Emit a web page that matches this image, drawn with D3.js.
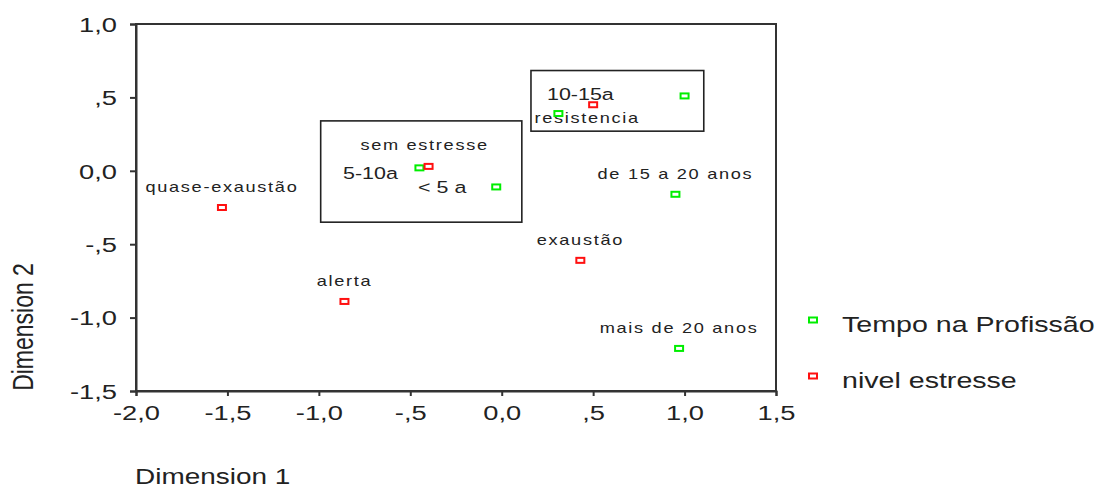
<!DOCTYPE html>
<html>
<head>
<meta charset="utf-8">
<script src="https://cdn.jsdelivr.net/npm/d3@7"></script>
<style>
  body { margin: 0; background: #fff; }
  text { font-family: "Liberation Sans", Arial, sans-serif; fill: #222; }
</style>
</head>
<body>
<div id="chart"></div>
<script>
// data
var tempoLabels = ["< 5 a", "5-10a", "10-15a", "de 15 a 20 anos", "mais de 20 anos", ""];
var tempoDim1 = [-0.03, -0.45, 0.31, 0.95, 0.97, 1.00];
var tempoDim2 = [-0.11, 0.02, 0.39, -0.16, -1.21, 0.51];

var estresseLabels = ["sem estresse", "alerta", "resistencia", "quase-exaustão", "exaustão"];
var estresseDim1 = [-0.40, -0.86, 0.50, -1.53, 0.43];
var estresseDim2 = [0.03, -0.89, 0.45, -0.25, -0.61];

var xTicks = [-2, -1.5, -1, -0.5, 0, 0.5, 1, 1.5];
var xTickLabels = ["-2,0", "-1,5", "-1,0", "-,5", "0,0", ",5", "1,0", "1,5"];
var yTicks = [-1.5, -1, -0.5, 0, 0.5, 1];
var yTickLabels = ["-1,5", "-1,0", "-,5", "0,0", ",5", "1,0"];

var seriesNames = ["Tempo na Profissão", "nivel estresse"];

// annotation boxes drawn on the plot, in data units [x0, x1, y0, y1]
var boxes = [[-0.99, 0.11, -0.35, 0.34], [0.16, 1.105, 0.27, 0.683]];

var width = 1113, height = 489;
var S = 1.3; // the picture is stretched sideways

var x = d3.scaleLinear().domain([-2, 1.5]).range([136, 776]);
var y = d3.scaleLinear().domain([-1.5, 1.0]).range([391, 24]);
var color = d3.scaleOrdinal().domain(seriesNames).range(["#00ee00", "#ff1010"]);

var svg = d3.select("#chart").append("svg")
    .attr("width", width)
    .attr("height", height);

function stretched(sel, px, py) {
  sel.attr("transform", "translate(" + px + "," + py + ") scale(" + S + ",1)");
}

// frame
svg.append("rect")
    .attr("x", x(-2)).attr("y", y(1))
    .attr("width", x(1.5) - x(-2)).attr("height", y(-1.5) - y(1))
    .attr("fill", "none").attr("stroke", "#333").attr("stroke-width", 2);

var xAxis = svg.append("g")
    .attr("transform", "translate(0," + y(-1.5) + ")")
    .call(d3.axisBottom(x).tickValues(xTicks).tickSize(5)
      .tickFormat(function(d, i) { return xTickLabels[i]; }));

var yAxis = svg.append("g")
    .attr("transform", "translate(" + x(-2) + ",0)")
    .call(d3.axisLeft(y).tickValues(yTicks).tickSize(6)
      .tickFormat(function(d, i) { return yTickLabels[i]; }));

[xAxis, yAxis].forEach(function(a) {
  a.select(".domain").attr("stroke", "#333").attr("stroke-width", 2);
  a.selectAll(".tick line").attr("stroke", "#333").attr("stroke-width", 2);
  a.selectAll("text").attr("font-size", 21).attr("font-family", null).attr("fill", "#222");
});

xAxis.selectAll("text")
    .attr("y", 29).attr("dy", null)
    .attr("transform", "scale(" + S + ",1)");

yAxis.selectAll("text")
    .attr("x", -19 / S).attr("dy", "0.35em")
    .attr("transform", "scale(" + S + ",1)");

// axis titles
svg.append("text")
    .attr("font-size", 21.5)
    .text("Dimension 1")
    .call(stretched, 135, 484);

svg.append("text")
    .attr("font-size", 23)
    .attr("text-anchor", "middle")
    .attr("transform", "translate(33,327) scale(" + S + ",1) rotate(-90)")
    .text("Dimension 2");

// boxes
svg.append("g").selectAll("rect")
    .data(boxes)
    .enter().append("rect")
      .attr("x", function(d) { return x(d[0]); })
      .attr("y", function(d) { return y(d[3]); })
      .attr("width", function(d) { return x(d[1]) - x(d[0]); })
      .attr("height", function(d) { return y(d[2]) - y(d[3]); })
      .attr("fill", "none")
      .attr("stroke", "#222")
      .attr("stroke-width", 1.6);

// points
var points = [];
tempoLabels.forEach(function(l, i) {
  points.push({ label: l, dx: tempoDim1[i], dy: tempoDim2[i], series: seriesNames[0] });
});
estresseLabels.forEach(function(l, i) {
  points.push({ label: l, dx: estresseDim1[i], dy: estresseDim2[i], series: seriesNames[1] });
});

// where labels were moved by hand, offset from the point in px
var labelShift = {
  "5-10a": [-49, 11],
  "< 5 a": [-54, 6],
  "10-15a": [22, -14],
  "resistencia": [-6, 18],
  "sem estresse": [-4, -16]
};
var bigLabels = ["5-10a", "< 5 a", "10-15a"];

var labels = svg.append("g").selectAll("text")
    .data(points.filter(function(d) { return d.label != ""; }))
    .enter().append("text")
      .attr("text-anchor", "middle")
      .attr("font-size", function(d) { return bigLabels.indexOf(d.label) >= 0 ? 16.5 : 14; })
      .attr("letter-spacing", function(d) { return bigLabels.indexOf(d.label) >= 0 ? 0 : 1.3; })
      .text(function(d) { return d.label; })
      .each(function(d) {
        var sh = labelShift[d.label] || [0, -15.5];
        d3.select(this).call(stretched, x(d.dx) + sh[0], y(d.dy) + sh[1]);
      });

svg.append("g").selectAll("rect")
    .data(points)
    .enter().append("rect")
      .attr("x", function(d) { return x(d.dx) - 4; })
      .attr("y", function(d) { return y(d.dy) - 2.5; })
      .attr("width", 8)
      .attr("height", 5)
      .attr("fill", "none")
      .attr("stroke", function(d) { return color(d.series); })
      .attr("stroke-width", 2);

// legend
var legend = svg.append("g").selectAll("g")
    .data(seriesNames)
    .enter().append("g")
      .attr("transform", function(d, i) { return "translate(813," + (320 + i * 56) + ")"; });

legend.append("rect")
    .attr("x", -4).attr("y", -2.5)
    .attr("width", 8).attr("height", 5)
    .attr("fill", "none")
    .attr("stroke", function(d) { return color(d); })
    .attr("stroke-width", 2);

legend.append("text")
    .attr("font-size", 22)
    .text(function(d) { return d; })
    .call(stretched, 29, 12);
</script>
</body>
</html>
